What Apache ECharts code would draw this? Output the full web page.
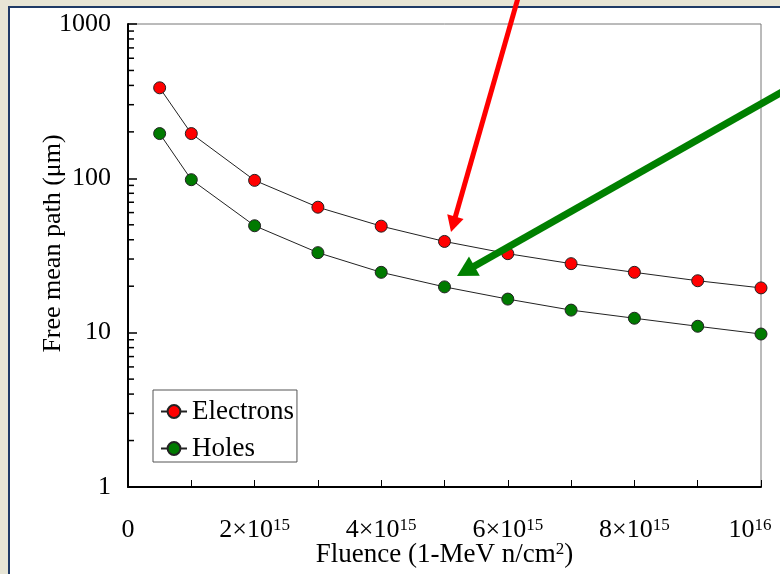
<!DOCTYPE html>
<html><head><meta charset="utf-8">
<script src="https://cdn.jsdelivr.net/npm/echarts@6/dist/echarts.min.js"></script>
<style>html,body{margin:0;padding:0;background:#e7e5d5;}#c{width:780px;height:574px;}</style>
</head><body><div id="c"></div>
<script>
const fluence = [0.5e15,1e15,2e15,3e15,4e15,5e15,6e15,7e15,8e15,9e15,10e15];
const electrons = [386,195,97,65,49,39,32.5,28,24.6,21.7,19.5];
const holes = [195,98,49.3,33,24.6,19.8,16.5,14,12.4,11,9.8];
const xTickValues = [0,2e15,4e15,6e15,8e15,1e16];
const xTickLabels = ['0','2×10{s|15}','4×10{s|15}','6×10{s|15}','8×10{s|15}','10{e|16}'];
const yTickLabels = ['1','10','100','1000'];
const yMinorTicks = [2,3,4,5,6,7,8,9,20,30,40,50,60,70,80,90,200,300,400,500,600,700,800,900];

const FONT = "'Liberation Serif','Times New Roman',serif";
const chart = echarts.init(document.getElementById('c'), null, {renderer:'canvas'});

function arrow(x1,y1,x2,y2,w,hl,hw,color){
  const dx=x2-x1, dy=y2-y1, L=Math.sqrt(dx*dx+dy*dy), ux=dx/L, uy=dy/L, px=-uy, py=ux;
  const bx=x2-ux*hl, by=y2-uy*hl;
  return [
    {type:'line', z:100, shape:{x1:x1,y1:y1,x2:bx+ux*2,y2:by+uy*2}, style:{stroke:color,lineWidth:w}},
    {type:'polygon', z:100, shape:{points:[[x2,y2],[bx+px*hw/2,by+py*hw/2],[bx-px*hw/2,by-py*hw/2]]}, style:{fill:color}}
  ];
}

const option = {
  animation:false,
  textStyle:{fontFamily:FONT},
  graphic:[
    {type:'rect', z:-100, shape:{x:9,y:7,width:800,height:600}, style:{fill:'#ffffff',stroke:'#1f3a66',lineWidth:2}},
    ...arrow(518,-2,451,232,5,16,17,'#ff0000'),
    ...arrow(782,92,457,276,7,20,22,'#008000')
  ],
  grid:{left:128,top:24,right:19,bottom:87,show:true,borderColor:'#777',borderWidth:1,backgroundColor:'transparent',outerBoundsMode:'none',containLabel:false},
  legend:{
    data:['Electrons','Holes'], orient:'vertical', left:153, top:390,
    backgroundColor:'#fff', borderColor:'#555', borderWidth:1,
    padding:[8,3,0,7], itemGap:10, itemWidth:26, itemHeight:16,
    textStyle:{fontFamily:FONT,fontSize:27,color:'#000'}
  },
  xAxis:{
    type:'value', min:0, max:1e16, interval:1e15,
    name:'Fluence (1-MeV n/cm{s|2})', nameLocation:'middle', nameGap:54, nameMoveOverlap:false,
    nameTextStyle:{fontFamily:FONT,fontSize:27,color:'#000',rich:{s:{fontSize:17,verticalAlign:'top',fontFamily:FONT,color:'#000',padding:[0,0,9,0]}}},
    axisLine:{lineStyle:{color:'#000',width:2}},
    axisTick:{inside:true,length:7,lineStyle:{color:'#000',width:1}},
    splitLine:{show:false},
    axisLabel:{
      showMinLabel:true, showMaxLabel:true, margin:30, color:'#000', fontFamily:FONT, fontSize:26,
      formatter:function(v){ const i = xTickValues.findIndex(t=>Math.abs(t-v)<1e10); return i<0?'':xTickLabels[i]; },
      rich:{s:{fontSize:17,verticalAlign:'top',fontFamily:FONT,color:'#000',padding:[0,0,10,0]},
            e:{fontSize:17,verticalAlign:'top',fontFamily:FONT,color:'#000',padding:[0,22,10,0]}}
    }
  },
  yAxis:{
    type:'log', logBase:10, min:1, max:1000,
    name:'Free mean path (μm)', nameLocation:'middle', nameGap:62, nameMoveOverlap:false,
    nameTextStyle:{fontFamily:FONT,fontSize:26,color:'#000',padding:[0,0,0,24]},
    axisLine:{lineStyle:{color:'#000',width:2}},
    axisTick:{inside:true,length:9,lineStyle:{color:'#000',width:1.5}},
    splitLine:{show:false},
    axisLabel:{margin:17,color:'#000',fontFamily:FONT,fontSize:26,
      formatter:function(v){ const i=Math.round(Math.log10(v)); return yTickLabels[i]; }}
  },
  series:[
    {type:'custom', silent:true, clip:false, z:3,
     data:yMinorTicks.map(v=>[0,v]),
     renderItem:function(params,api){
       const p = api.coord([api.value(0),api.value(1)]);
       return {type:'line', shape:{x1:p[0],y1:p[1],x2:p[0]+6,y2:p[1]}, style:{stroke:'#000',lineWidth:1.5}};
     }},
    {name:'Electrons', type:'line', data:fluence.map((f,i)=>[f,electrons[i]]),
     symbol:'circle', symbolSize:12, lineStyle:{color:'#222',width:1},
     itemStyle:{color:'#ff0000',borderColor:'#222',borderWidth:1}, z:5},
    {name:'Holes', type:'line', data:fluence.map((f,i)=>[f,holes[i]]),
     symbol:'circle', symbolSize:12, lineStyle:{color:'#222',width:1},
     itemStyle:{color:'#007a00',borderColor:'#222',borderWidth:1}, z:5}
  ]
};
chart.setOption(option);
</script></body></html>
